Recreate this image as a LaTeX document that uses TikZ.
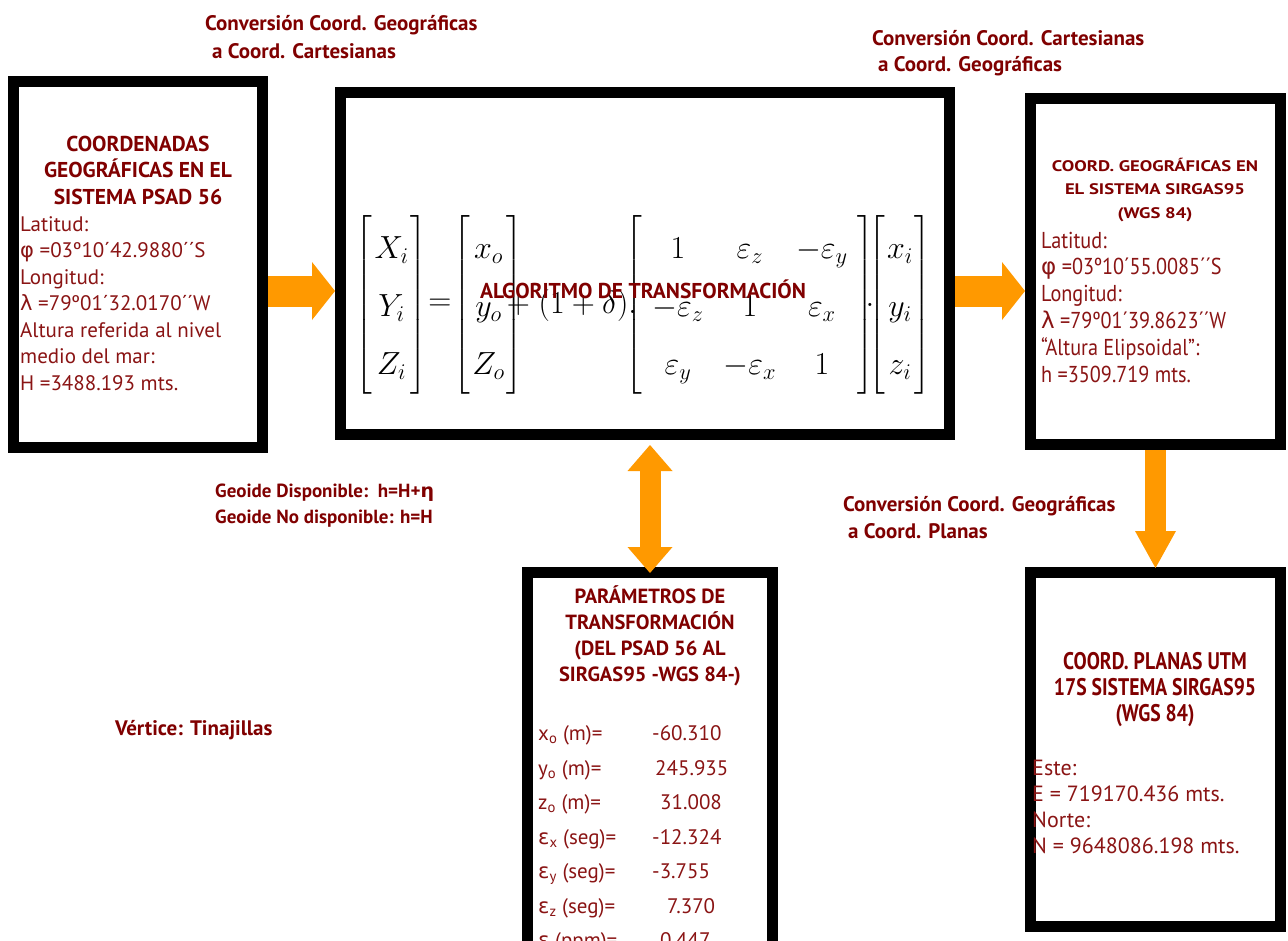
\RequirePackage{fix-cm}
\documentclass[tikz,border=0pt]{standalone}
\usepackage{amsmath}
\usepackage{fontspec}
\usetikzlibrary{arrows.meta,calc}
\setmainfont{PT Sans}
\newfontfamily\gr{DejaVu Sans}
\newfontfamily\wideF[FakeStretch=1.22]{PT Sans}
\newfontfamily\narF[FakeStretch=0.82]{PT Sans}
\newfontfamily\rbF[FakeStretch=0.88]{PT Sans}
\definecolor{dred}{HTML}{800000}
\definecolor{bred}{HTML}{8A1414}
\definecolor{org}{HTML}{FF9900}
\begin{document}
\begin{tikzpicture}[x=1pt,y=-1pt,
  box/.style={draw=black,line width=11pt,fill=white,inner sep=0pt},
  ttl/.style={text=dred,font=\bfseries\fontsize{21.5}{26.5}\selectfont,align=center,inner sep=0pt},
  bdy/.style={text=bred,font=\fontsize{21}{26.5}\selectfont,align=left,inner sep=0pt},
  lbl/.style={text=dred,font=\bfseries\fontsize{21}{27}\selectfont,align=left,inner sep=0pt},
  mat/.style={font=\fontsize{32}{40}\selectfont,inner sep=0pt},
  harrow/.style={draw=org,line width=31pt,-{Triangle[length=23pt,width=58pt,line width=0pt]}},
  vdarrow/.style={draw=org,line width=21pt,{Triangle[length=26pt,width=45pt,line width=0pt]}-{Triangle[length=26pt,width=45pt,line width=0pt]}},
  varrow/.style={draw=org,line width=21pt,-{Triangle[length=37pt,width=41pt,line width=0pt]}}
]
\useasboundingbox (0,0) rectangle (1288,940);
\fill[white] (0,0) rectangle (1288,940);

% boxes
\node[box,minimum width=249pt,minimum height=366pt] (L) at (138,264.5) {};
\node[box,minimum width=609pt,minimum height=342pt] (C) at (645,263.5) {};
\node[box,minimum width=250pt,minimum height=346pt] (R) at (1155.5,271.5) {};
\node[box,minimum width=245pt,minimum height=382pt] (P) at (650,763.5) {};
\node[box,minimum width=250pt,minimum height=354pt] (BR) at (1155.5,749.5) {};

% arrows
\coordinate (ay) at (0,291);
\draw[harrow] (L.east |- ay) -- (C.west |- ay);
\draw[harrow] (C.east |- ay) -- (R.west |- ay);
\draw[vdarrow] ($(C.south -| P.north)+(0,5)$) -- ($(P.north)+(0,6)$);
\draw[varrow] (R.south) -- ($(BR.north)+(0,1)$);

% left box (base anchor = last line baseline)
\node[ttl,anchor=base] (Lt) at (138,204) {COORDENADAS\\GEOGRÁFICAS EN EL\\SISTEMA PSAD 56};
\node[bdy,anchor=base west] (Lb) at (20,390) {Latitud:\\{\gr φ} =03º10´42.9880´´S\\Longitud:\\{\gr λ} =79º01´32.0170´´W\\Altura referida al nivel\\medio del mar:\\H =3488.193 mts.};

% matrix equation
\node[mat] (v1) at (391.5,305) {$\renewcommand\arraystretch{1.45}\setlength\arraycolsep{2pt}\left[\begin{array}{c}X_i\\Y_i\\Z_i\end{array}\right]$};
\node[mat] (eq) at (440,305) {$=$};
\node[mat] (v2) at (488.5,305) {$\renewcommand\arraystretch{1.45}\setlength\arraycolsep{2pt}\left[\begin{array}{c}x_o\\y_o\\Z_o\end{array}\right]$};
\node[mat] (pl) at (572,305) {$+\;(1+\delta).$};
\node[mat] (M) at (750,305) {$\renewcommand\arraystretch{1.45}\setlength\arraycolsep{10pt}\left[\begin{array}{ccc}1&\varepsilon_z&-\varepsilon_y\\-\varepsilon_z&1&\varepsilon_x\\\varepsilon_y&-\varepsilon_x&1\end{array}\right]$};
\node[mat] (dt) at (870,305) {$.$};
\node[mat] (v3) at (900,305) {$\renewcommand\arraystretch{1.45}\setlength\arraycolsep{2pt}\left[\begin{array}{c}x_i\\y_i\\z_i\end{array}\right]$};
\node[ttl,anchor=base] (Ct) at (643,298) {ALGORITMO DE TRANSFORMACIÓN};

% right box
\node[anchor=base,text=dred,font=\wideF\bfseries\fontsize{15.3}{23.5}\selectfont,align=center,inner sep=0pt] (Rt) at (1155,218) {COORD. GEOGRÁFICAS EN\\EL SISTEMA SIRGAS95\\(WGS 84)};
\node[bdy,anchor=base west,font=\rbF\fontsize{23}{26.8}\selectfont] (Rb) at (1041,382) {Latitud:\\{\gr φ} =03º10´55.0085´´S\\Longitud:\\{\gr λ} =79º01´39.8623´´W\\“Altura Elipsoidal”:\\h =3509.719 mts.};

% parameters box
\node[ttl,anchor=base,font=\bfseries\fontsize{20.5}{25.7}\selectfont] (Pt) at (650,681) {PARÁMETROS DE\\TRANSFORMACIÓN\\(DEL PSAD 56 AL\\SIRGAS95 -WGS 84-)};
\foreach \i/\yy/\lab/\vx/\val in {1/740/x\textsubscript{o} (m)=/652/-60.310,
  2/775/y\textsubscript{o} (m)=/655/245.935,
  3/809.5/z\textsubscript{o} (m)=/660/31.008,
  4/844/{{\gr ε}\textsubscript{x} (seg)=}/652/-12.324,
  5/878.5/{{\gr ε}\textsubscript{y} (seg)=}/652/-3.755,
  6/913/{{\gr ε}\textsubscript{z} (seg)=}/667/7.370,
  7/947.5/{{\gr ε} (ppm)=}/660/0.447}{
  \node[bdy,anchor=base west] (pl\i) at (538,\yy) {\lab};
  \node[bdy,anchor=base west] (pv\i) at (\vx,\yy) {\val};
}

% bottom right box
\node[anchor=base,text=dred,font=\narF\bfseries\fontsize{24}{26}\selectfont,align=center,inner sep=0pt] (BRt) at (1155,721) {COORD. PLANAS UTM\\17S SISTEMA SIRGAS95\\(WGS 84)};
\node[bdy,anchor=base west,font=\fontsize{22}{26.2}\selectfont] (BRb) at (1032,853.6) {Este:\\E = 719170.436 mts.\\Norte:\\N = 9648086.198 mts.};

% labels
\node[lbl,anchor=base west,font=\bfseries\fontsize{21}{28}\selectfont] (t1) at (205,58) {Conversión Coord. Geográficas\\\hspace*{7pt}a Coord. Cartesianas};
\node[lbl,anchor=base west,font=\bfseries\fontsize{21}{26}\selectfont] (t2) at (872,71) {Conversión Coord. Cartesianas\\\hspace*{6pt}a Coord. Geográficas};
\node[lbl,anchor=base west,font=\bfseries\fontsize{19}{26}\selectfont] (t3) at (215,523) {Geoide Disponible:\ \ h=H+{\gr η}\\Geoide No disponible: h=H};
\node[lbl,anchor=base west,font=\bfseries\fontsize{21}{27}\selectfont] (t4) at (843,538) {Conversión Coord. Geográficas\\\hspace*{5pt}a Coord. Planas};
\node[lbl,anchor=base west] (t5) at (115,735) {Vértice: Tinajillas};
\end{tikzpicture}
\end{document}
